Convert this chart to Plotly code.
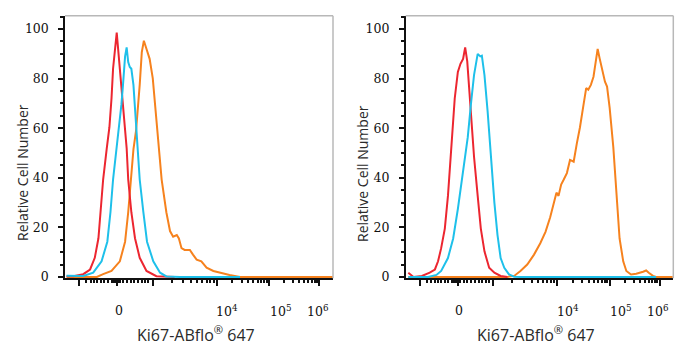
import numpy as np
import plotly.graph_objects as go

# ---- data (x in display units of the biexponential axis: 10^4 -> 4, 10^5 -> 5 ...) ----
left_red_x = [1.13, 1.26, 1.45, 1.58, 1.67, 1.74, 1.78, 1.83, 1.90, 1.95, 1.99, 2.02, 2.09, 2.15, 2.18, 2.23, 2.28, 2.31, 2.37, 2.44, 2.53, 2.66, 2.85, 3.20]
left_red_y = [0.3, 0.3, 1.1, 3.0, 7.7, 15.6, 26.1, 39.3, 52.0, 60.4, 72.0, 84.0, 98.6, 84.0, 74.9, 64.3, 52.0, 39.3, 26.1, 15.6, 7.7, 2.4, 0.3, 0.0]

left_blue_x = [1.13, 1.45, 1.64, 1.80, 1.91, 1.97, 2.02, 2.09, 2.14, 2.18, 2.21, 2.25, 2.28, 2.31, 2.34, 2.37, 2.41, 2.44, 2.47, 2.53, 2.60, 2.67, 2.79, 2.92, 3.04, 3.30, 4.45]
left_blue_y = [0.5, 0.4, 1.7, 6.3, 14.2, 26.1, 39.3, 52.0, 60.4, 69.6, 77.5, 89.0, 92.6, 86.7, 84.7, 84.0, 77.5, 67.0, 56.0, 39.3, 26.1, 14.2, 6.3, 1.7, 0.2, 0.0, 0.0]

left_orange_x = [1.13, 1.71, 1.83, 1.99, 2.15, 2.25, 2.31, 2.36, 2.41, 2.46, 2.50, 2.53, 2.57, 2.61, 2.66, 2.72, 2.78, 2.82, 2.86, 2.90, 2.95, 3.04, 3.11, 3.17, 3.24, 3.28, 3.33, 3.39, 3.49, 3.55, 3.62, 3.71, 3.81, 3.94, 4.06, 4.25, 4.45, 6.23]
left_orange_y = [0.0, 0.0, 1.1, 2.4, 6.3, 14.2, 26.1, 39.3, 51.5, 59.0, 68.3, 77.5, 90.7, 95.3, 92.0, 88.0, 80.1, 70.9, 60.4, 51.0, 39.3, 26.1, 18.5, 16.2, 16.9, 15.5, 11.6, 10.9, 10.9, 9.0, 7.0, 6.3, 3.7, 2.4, 1.7, 0.8, 0.0, 0.0]

right_red_x = [1.15, 1.25, 1.41, 1.56, 1.66, 1.72, 1.78, 1.85, 1.91, 1.97, 2.04, 2.10, 2.15, 2.20, 2.24, 2.28, 2.32, 2.37, 2.41, 2.48, 2.54, 2.61, 2.70, 2.80, 2.92, 3.05]
right_red_y = [1.7, 0.0, 0.4, 1.7, 3.0, 6.3, 11.6, 19.5, 32.7, 52.0, 72.0, 82.7, 86.0, 88.0, 92.6, 87.0, 75.0, 61.7, 48.5, 32.7, 19.5, 10.3, 3.7, 1.7, 0.4, 0.0]

right_blue_x = [1.15, 1.53, 1.69, 1.78, 1.91, 2.01, 2.10, 2.20, 2.29, 2.35, 2.41, 2.48, 2.53, 2.56, 2.61, 2.67, 2.73, 2.80, 2.86, 2.92, 2.99, 3.08, 3.18, 3.30, 5.90]
right_blue_y = [0.0, 0.0, 0.8, 2.4, 7.6, 15.5, 27.4, 41.9, 56.4, 69.6, 81.4, 90.0, 89.0, 89.3, 81.4, 66.9, 48.5, 30.0, 16.9, 7.6, 3.7, 1.0, 0.1, 0.0, 0.0]

right_orange_x = [1.15, 3.05, 3.18, 3.30, 3.43, 3.56, 3.68, 3.78, 3.87, 3.94, 3.99, 4.03, 4.08, 4.13, 4.19, 4.25, 4.32, 4.38, 4.44, 4.51, 4.56, 4.60, 4.65, 4.70, 4.75, 4.78, 4.82, 4.87, 4.92, 4.96, 5.01, 5.08, 5.14, 5.20, 5.27, 5.33, 5.42, 5.52, 5.65, 5.71, 5.76, 5.84, 5.90, 6.22]
right_orange_y = [0.0, 0.0, 0.4, 2.4, 5.0, 9.0, 13.6, 18.2, 24.1, 30.0, 34.0, 32.7, 37.3, 39.3, 41.9, 47.2, 46.5, 53.8, 60.3, 69.6, 76.2, 75.5, 77.5, 80.8, 89.3, 92.0, 88.0, 82.7, 78.8, 76.8, 68.2, 52.4, 32.7, 15.5, 6.3, 2.4, 1.0, 1.3, 2.1, 2.6, 1.7, 0.4, 0.0, 0.0]

# axis ticks (display units)
major_tick_pos = [1.37, 2.10, 2.78, 4.00, 5.01, 5.97]
x_label_text = ["0", "10<sup>4</sup>", "10<sup>5</sup>", "10<sup>6</sup>"]
x_label_pos = [2.13, 4.21, 5.22, 5.94]
y_tick_vals = [0, 20, 40, 60, 80, 100]
x_title = "Ki67-ABflo<sup>®</sup> 647"
y_title = "Relative Cell Number"

RED = "rgb(236,38,48)"
BLUE = "rgb(30,192,234)"
ORANGE = "rgb(246,130,30)"

# minor ticks: linear near zero, logarithmic in the decades
minor = [1.51, 1.59, 1.66, 1.72, 1.78, 1.85, 1.92]
minor += list(np.round(np.arange(1.99, 2.16, 0.02), 3))
minor += [2.21, 2.28, 2.36, 2.42, 2.50, 2.57, 2.63, 2.69]
decades = [(2.78, 4.00), (4.00, 5.01), (5.01, 5.97)]
for a, b in decades:
    for k in range(2, 10):
        minor.append(a + (b - a) * np.log10(k))

fig = go.Figure()
panels = [
    ("x", "y", left_red_x, left_red_y, left_blue_x, left_blue_y, left_orange_x, left_orange_y),
    ("x2", "y2", right_red_x, right_red_y, right_blue_x, right_blue_y, right_orange_x, right_orange_y),
]
for xa, ya, rx, ry, bx, by, ox, oy in panels:
    fig.add_trace(go.Scatter(x=ox, y=oy, mode="lines", line=dict(color=ORANGE, width=2), xaxis=xa, yaxis=ya, showlegend=False))
    fig.add_trace(go.Scatter(x=rx, y=ry, mode="lines", line=dict(color=RED, width=2), xaxis=xa, yaxis=ya, showlegend=False))
    fig.add_trace(go.Scatter(x=bx, y=by, mode="lines", line=dict(color=BLUE, width=2), xaxis=xa, yaxis=ya, showlegend=False))

W, H = 692, 350
ybot, ytop = 1 - 283 / H, 1 - 16 / H
doms = [(65 / W, 333 / W), (405.7 / W, 673.3 / W)]

tickfont = dict(family="DejaVu Serif", size=12.5, color="#111")
xax = dict(range=[1.10, 6.23], showgrid=False, zeroline=False, showline=True, linecolor="#111", linewidth=1.5,
           ticks="outside", tickvals=major_tick_pos, ticklen=6, tickwidth=2, tickcolor="#111",
           showticklabels=False, layer="below traces",
           minor=dict(tickvals=minor, ticks="outside", ticklen=3, tickwidth=1.5, tickcolor="#111"))
yax = dict(range=[-0.5, 105.4], showgrid=False, zeroline=False, showline=True, linecolor="#111", linewidth=1.5,
           ticks="outside", tickvals=y_tick_vals, ticklen=5, tickwidth=2, tickcolor="#111",
           tickfont=tickfont, ticklabelstandoff=7, layer="below traces",
           minor=dict(dtick=5, ticks="outside", ticklen=3, tickwidth=1.5, tickcolor="#111"))

fig.update_layout(
    width=W, height=H, margin=dict(l=0, r=0, t=0, b=0),
    paper_bgcolor="white", plot_bgcolor="white",
    xaxis=dict(xax, domain=doms[0], anchor="y"),
    yaxis=dict(yax, domain=[ybot, ytop], anchor="x"),
    xaxis2=dict(xax, domain=doms[1], anchor="y2"),
    yaxis2=dict(yax, domain=[ybot, ytop], anchor="x2"),
)

shapes = []
annotations = []
xtitlefont = dict(family="Open Sans", size=16, color="#2a2a2a")
ytitlefont = dict(family="Open Sans", size=14, color="#2a2a2a")
for i, (xa, ya) in enumerate([("x", "y"), ("x2", "y2")]):
    sfx = "" if i == 0 else "2"
    # light frame on top and right
    shapes.append(dict(type="line", xref=f"x{sfx} domain", yref=f"y{sfx} domain", x0=0, x1=1, y0=1, y1=1,
                       line=dict(color="#b8b8b8", width=1.5)))
    shapes.append(dict(type="line", xref=f"x{sfx} domain", yref=f"y{sfx} domain", x0=1, x1=1, y0=0, y1=1,
                       line=dict(color="#b8b8b8", width=1.5)))
    for t, p in zip(x_label_text, x_label_pos):
        annotations.append(dict(text=t, x=p, xref=xa, y=1 - 316 / H, yref="paper", showarrow=False,
                                xanchor="center", yanchor="middle", font=tickfont))
    d0, d1 = doms[i]
    annotations.append(dict(text=x_title, x=(d0 + d1) / 2 - 0.005, xref="paper", y=1 - 340 / H, yref="paper",
                            showarrow=False, xanchor="center", yanchor="middle", font=xtitlefont))
    annotations.append(dict(text=y_title, x=(23 if i == 0 else 363) / W, xref="paper", y=1 - 176 / H, yref="paper",
                            showarrow=False, xanchor="center", yanchor="middle", textangle=-90, font=ytitlefont))

fig.update_layout(shapes=shapes, annotations=annotations)
fig.write_html("out.html")
